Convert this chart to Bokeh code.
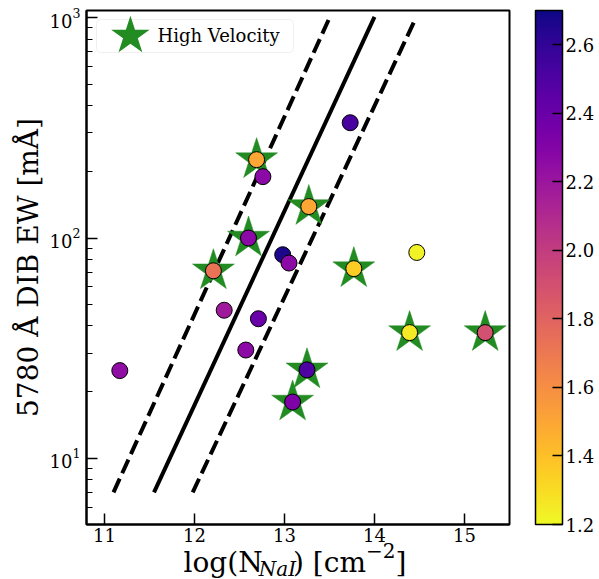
from bokeh.plotting import figure
from bokeh.layouts import column
from bokeh.models import (Range1d, FixedTicker, LogTickFormatter, ColorBar, LinearColorMapper,
                          Label, BoxAnnotation, ColumnDataSource, PrintfTickFormatter)
from bokeh.palettes import Plasma256
from bokeh.embed import file_html
from bokeh.resources import INLINE

# ---------------- data ----------------
# high-velocity sightlines (stars)
hv_logN = [12.69, 12.60, 12.21, 13.27, 13.77, 13.25, 13.09, 14.39, 15.23]
hv_ew = [227, 100, 71, 139, 72.6, 25.2, 18.0, 37.2, 37.2]
hv_c = [1.50, 2.27, 1.73, 1.50, 1.35, 2.50, 2.32, 1.25, 1.90]

# other sightlines
lv_logN = [11.17, 12.33, 12.71, 12.57, 12.98, 13.05, 13.73, 12.76, 14.47]
lv_ew = [25.0, 47.0, 43.0, 31.0, 84.0, 77.0, 334.0, 190.0, 86.0]
lv_c = [2.25, 2.18, 2.40, 2.27, 2.67, 2.27, 2.52, 2.27, 1.22]

# relation and its scatter
fit_x = [11.55, 14.00]
fit_y = [7.0, 1010.0]
lo_x = [11.10, 13.49]
lo_y = [7.0, 980.0]
hi_x = [11.98, 14.44]
hi_y = [7.0, 960.0]

x_ticks = [11, 12, 13, 14, 15]
y_ticks = [10, 100, 1000]
y_minor = [6, 7, 8, 9, 20, 30, 40, 50, 60, 70, 80, 90, 200, 300, 400, 500, 600, 700, 800, 900]
cb_ticks = [1.2, 1.4, 1.6, 1.8, 2.0, 2.2, 2.4, 2.6]
c_low, c_high = 1.2, 2.7

SERIF = "DejaVu Serif"
W = 599

p = figure(width=W, height=547, y_axis_type="log",
           x_range=Range1d(10.8, 15.5), y_range=Range1d(5, 1080),
           output_backend="svg", toolbar_location=None,
           min_border_left=86, min_border_top=10, min_border_bottom=23, min_border_right=90)
p.xgrid.visible = False
p.ygrid.visible = False
p.outline_line_color = "black"
p.outline_line_width = 2
p.background_fill_color = "white"

mapper = LinearColorMapper(palette=list(reversed(Plasma256)), low=c_low, high=c_high)

p.line(lo_x, lo_y, line_color="black", line_width=4, line_dash="15 6")
p.line(fit_x, fit_y, line_color="black", line_width=4)
p.line(hi_x, hi_y, line_color="black", line_width=4, line_dash="15 6")

p.scatter(hv_logN, hv_ew, marker="star", size=44, fill_color="#228b22", line_color="#228b22",
          line_width=0.5)

src = ColumnDataSource(dict(x=hv_logN + lv_logN, y=hv_ew + lv_ew, c=hv_c + lv_c))
p.scatter("x", "y", source=src, marker="circle", size=16,
          fill_color={"field": "c", "transform": mapper}, line_color="black", line_width=1)

for ax in (p.xaxis[0], p.yaxis[0]):
    ax.axis_line_width = 2
    ax.major_tick_in = 11
    ax.major_tick_out = 0
    ax.minor_tick_in = 6
    ax.minor_tick_out = 0
    ax.major_tick_line_width = 1.5
    ax.minor_tick_line_width = 1
    ax.major_label_text_font = SERIF
    ax.major_label_text_font_size = "18px"
    ax.major_label_text_color = "black"

p.xaxis.ticker = FixedTicker(ticks=x_ticks, minor_ticks=[])
p.xaxis.major_label_standoff = 3
p.yaxis.ticker = FixedTicker(ticks=y_ticks, minor_ticks=y_minor)
p.yaxis.formatter = LogTickFormatter()
p.yaxis.major_label_standoff = 6
p.yaxis.axis_label = "5780 Å DIB EW [mÅ]"
p.yaxis.axis_label_text_font = SERIF
p.yaxis.axis_label_text_font_size = "28px"
p.yaxis.axis_label_text_font_style = "normal"
p.yaxis.axis_label_text_color = "black"
p.yaxis.axis_label_standoff = 2

# legend (drawn by hand to get a big star symbol)
p.add_layout(BoxAnnotation(left=10, right=207, top=505, bottom=472,
                           left_units="screen", right_units="screen",
                           top_units="screen", bottom_units="screen",
                           fill_color="white", fill_alpha=0.8, line_color="#cccccc",
                           line_width=1, border_radius=4))
p.add_layout(Label(x=44, y=490, x_units="screen", y_units="screen", text="\u2605",
                   text_font="DejaVu Sans", text_font_size="50px", text_color="#228b22",
                   text_align="center", text_baseline="middle"))
p.add_layout(Label(x=71, y=489, x_units="screen", y_units="screen", text="High Velocity",
                   text_font=SERIF, text_font_size="18px", text_color="black",
                   text_align="left", text_baseline="middle"))

cb = ColorBar(color_mapper=mapper, ticker=FixedTicker(ticks=cb_ticks),
              formatter=PrintfTickFormatter(format="%.1f"), width=27,
              location=(26, 0),
              bar_line_color="black", bar_line_width=1.5,
              major_tick_in=10, major_tick_out=0, major_tick_line_color="black",
              major_tick_line_width=1.5, minor_tick_line_color=None,
              major_label_text_font=SERIF, major_label_text_font_size="18px",
              major_label_text_color="black",
              label_standoff=3, padding=0, margin=0,
              border_line_color=None, background_fill_color=None)
p.add_layout(cb, "right")

# x-axis title strip (with sub/superscripts), overlapping the tick-label band transparently
p2 = figure(width=W, height=44, x_range=Range1d(0, 1), y_range=Range1d(0, 1),
            output_backend="svg", toolbar_location=None, title=None,
            x_axis_location=None, y_axis_location=None,
            min_border_left=0, min_border_right=0, min_border_top=0, min_border_bottom=0)
p2.margin = (-12, 0, 0, 0)
p2.outline_line_color = None
p2.border_fill_alpha = 0
p2.background_fill_alpha = 0
p2.xgrid.visible = False
p2.ygrid.visible = False

fs = 28
sfs = 20
pieces = [
    ("log(N", fs, "normal", 0, 2.69 * fs),
    ("NaI", sfs, "italic", -6, 1.71 * sfs),
    (") [cm", fs, "normal", 0, 2.608 * fs),
    ("\u22122", sfs, "normal", 12, 1.474 * sfs),
    ("]", fs, "normal", 0, 0.39 * fs),
]
cx = 97
base_y = 17
for txt, size, style, dy, w in pieces:
    p2.add_layout(Label(x=cx, y=base_y + dy, x_units="screen", y_units="screen", text=txt,
                        text_font=SERIF, text_font_size=f"{size}px", text_font_style=style,
                        text_align="left", text_baseline="alphabetic", text_color="black"))
    cx += w

layout = column(p, p2, spacing=0)
open("out.html", "w").write(file_html(layout, INLINE))
